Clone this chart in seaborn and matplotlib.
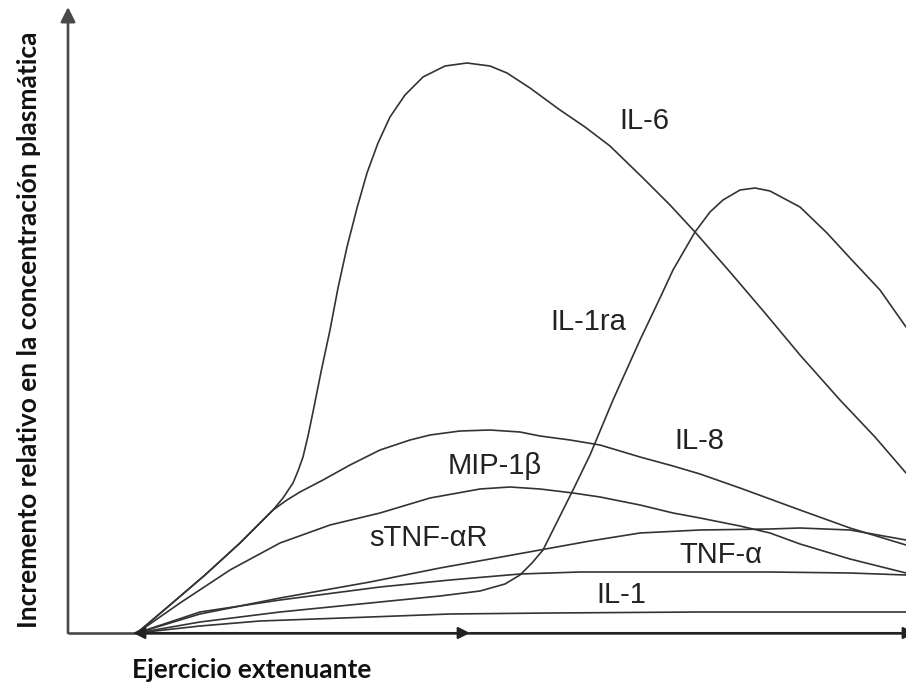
import matplotlib
matplotlib.use("Agg")
import matplotlib.pyplot as plt
import seaborn as sns
import pandas as pd

# ---- data (time units vs relative increase) ----
il6_t = [0, 33, 68, 103, 136, 146, 156, 161, 166, 171, 176, 184, 193, 201, 210, 220, 230, 241, 253, 268, 286, 308, 330, 353, 370, 393, 423, 448, 473, 506, 533, 558, 593, 628, 663, 703, 738, 769]
il6_y = [0, 28, 58, 90, 123, 135, 150, 162, 176, 197, 221, 261, 303, 345, 386, 425, 460, 490, 516, 538, 556, 567, 570, 567, 560, 545, 523, 506, 487, 455, 428, 401, 361, 320, 278, 233, 196, 160]

il1ra_t = [0, 63, 143, 243, 303, 343, 368, 383, 395, 406, 421, 436, 453, 476, 503, 523, 536, 558, 573, 586, 603, 618, 633, 663, 690, 713, 743, 769]
il1ra_y = [0, 11, 21, 31, 37, 42, 49, 58, 70, 83, 113, 143, 178, 233, 293, 335, 363, 401, 421, 433, 443, 445, 442, 426, 400, 375, 343, 306]

il8_t = [0, 33, 68, 103, 136, 150, 163, 186, 213, 243, 273, 293, 323, 353, 383, 403, 433, 463, 503, 536, 563, 603, 633, 663, 713, 769]
il8_y = [0, 28, 58, 90, 123, 133, 141, 153, 168, 183, 193, 198, 202, 203, 201, 197, 193, 188, 176, 167, 159, 145, 134, 123, 105, 88]

mip_t = [0, 43, 93, 143, 193, 243, 293, 343, 373, 403, 436, 463, 503, 536, 563, 603, 633, 663, 713, 769]
mip_y = [0, 30, 63, 90, 108, 120, 135, 144, 146, 144, 140, 136, 128, 120, 115, 107, 100, 89, 74, 60]

stnf_t = [0, 63, 143, 233, 303, 353, 403, 453, 503, 563, 633, 663, 713, 769]
stnf_y = [0, 19, 35, 51, 65, 74, 83, 92, 100, 103, 104, 105, 103, 93]

tnfa_t = [0, 63, 143, 243, 313, 383, 443, 493, 563, 633, 713, 769]
tnfa_y = [0, 21, 33, 46, 53, 59, 61, 61, 61, 61, 60, 58]

il1_t = [0, 63, 123, 233, 313, 413, 563, 769]
il1_y = [0, 7, 12, 16, 19, 20, 21, 21]

cytokines = ["IL-6", "IL-1ra", "IL-8", "MIP-1β", "sTNF-αR", "TNF-α", "IL-1"]
label_pos_t = [507, 451, 562, 358, 291, 584, 484]
label_pos_y = [512, 311, 192, 167, 95, 78, 38]

series = {
    "IL-6": (il6_t, il6_y),
    "IL-1ra": (il1ra_t, il1ra_y),
    "IL-8": (il8_t, il8_y),
    "MIP-1β": (mip_t, mip_y),
    "sTNF-αR": (stnf_t, stnf_y),
    "TNF-α": (tnfa_t, tnfa_y),
    "IL-1": (il1_t, il1_y),
}

rows = []
for name, (ts, ys) in series.items():
    for t, y in zip(ts, ys):
        rows.append({"citoquina": name, "tiempo": t, "incremento": y})
df = pd.DataFrame(rows)

sns.set_theme(style="white")
plt.rcParams["font.family"] = ["Liberation Sans", "DejaVu Sans"]

fig = plt.figure(figsize=(9.06, 6.86), dpi=100)
ax = fig.add_axes([0, 0, 1, 1])
ax.set_xlim(-137, 769)
ax.set_ylim(-53, 633)
ax.axis("off")

line_col = "#333333"
sns.lineplot(data=df, x="tiempo", y="incremento", hue="citoquina",
             palette={c: line_col for c in cytokines}, estimator=None,
             sort=False, legend=False, linewidth=1.2, ax=ax)
for ln in ax.lines:
    ln.set_solid_joinstyle("round")

for name, tx, ty in zip(cytokines, label_pos_t, label_pos_y):
    ax.text(tx, ty, name, fontsize=21, color="#222222",
            ha="center", va="center")

axis_col = "#4a4a4a"
# y axis with arrow
ax.annotate("", xy=(-69, 626), xytext=(-69, 0), annotation_clip=False,
            arrowprops=dict(arrowstyle="-|>", mutation_scale=22,
                            color=axis_col, lw=1.9, shrinkA=0, shrinkB=0))
# x axis base line
ax.plot([-69, 769], [0, 0], color=axis_col, lw=1.9, solid_capstyle="butt")
# double arrow for exercise period
ax.annotate("", xy=(333, 0), xytext=(-4, 0), annotation_clip=False,
            arrowprops=dict(arrowstyle="<|-|>", mutation_scale=18,
                            color="#222222", lw=1.5, shrinkA=0, shrinkB=0))
# arrow for recovery period
ax.annotate("", xy=(778, 0), xytext=(333, 0), annotation_clip=False,
            arrowprops=dict(arrowstyle="-|>", mutation_scale=18,
                            color="#222222", lw=1.5, shrinkA=0, shrinkB=0))

fig.text(29 / 906, 1 - 330 / 686,
         "Incremento relativo en la concentración plasmática",
         rotation=90, ha="center", va="center", fontsize=19,
         fontweight="bold", family=["Lato", "DejaVu Sans"], color="#111111")
fig.text(132 / 906, 1 - 670 / 686, "Ejercicio extenuante",
         ha="left", va="center", fontsize=19, fontweight="bold",
         family=["Lato", "DejaVu Sans"], color="#111111")

fig.savefig("out.png", dpi=100)
